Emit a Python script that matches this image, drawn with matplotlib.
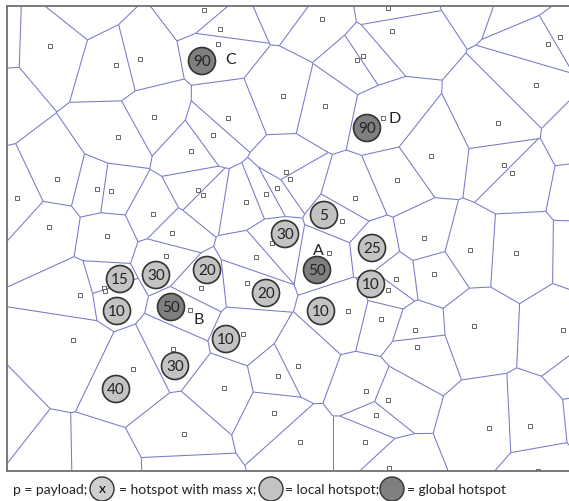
import numpy as np
import matplotlib.pyplot as plt
import matplotlib.tri as mtri
from matplotlib.collections import LineCollection
from matplotlib.patches import Circle

# payload positions (pixel coords of the original figure, y grows downward)
payload_x = [50, 116, 140, 204, 220, 218, 283, 154, 228, 118, 213, 191, 57, 17, 97, 111,
             198, 203, 246, 266, 277, 286, 290, 153, 49, 107, 172, 388, 322, 392, 357, 363,
             560, 548, 536, 325, 383, 498, 431, 504, 512, 397, 355, 342, 424, 166, 256, 272,
             80, 104, 105, 201, 247, 190, 243, 73, 173, 133, 278, 224, 274, 184, 329, 470,
             516, 434, 396, 388, 348, 381, 474, 563, 415, 417, 298, 366, 388, 376, 489, 530,
             300, 365, 389, 538, 372]
payload_y = [47, 66, 60, 11, 30, 45, 97, 118, 119, 138, 136, 152, 180, 199, 190, 192,
             191, 196, 203, 195, 189, 173, 180, 215, 228, 237, 234, 9, 20, 32, 61, 57,
             38, 45, 86, 107, 119, 124, 157, 166, 174, 181, 199, 222, 239, 257, 258, 244,
             296, 289, 292, 289, 284, 311, 335, 341, 350, 370, 377, 389, 414, 435, 254, 251,
             254, 275, 280, 291, 312, 320, 327, 331, 331, 348, 367, 392, 401, 416, 429, 427,
             443, 443, 469, 472, 249]

# payloads lying just outside the visible frame (they shape the border cells)
outer_x = [85, 292, 480, 525, -10, -7, -19, 46, 98, 186, 585, 592, 590, 592, 600]
outer_y = [3, -2, -26, -10, 45, 95, 431, 482, 481, 478, 135, 190, 255, 370, 420]

# hotspots
hot_x = [202, 367, 324, 285, 156, 120, 207, 317, 372, 266, 117, 171, 371, 321, 226, 175, 116]
hot_y = [62, 129, 216, 235, 276, 280, 271, 271, 249, 294, 312, 308, 285, 312, 340, 367, 390]
hot_mass = [90, 90, 5, 30, 30, 15, 20, 50, 25, 20, 10, 50, 10, 10, 10, 30, 40]
hot_global = [True, True, False, False, False, False, False, True, False, False, False,
              True, False, False, False, False, False]

tags = ["A", "B", "C", "D"]
tag_x = [318, 199, 231, 395]
tag_y = [251, 320, 60, 119]

W, H = 569, 502
fig = plt.figure(figsize=(W / 100, H / 100), dpi=100)
ax = fig.add_axes([7 / W, (H - 472) / H, (575 - 7) / W, (472 - 7) / H])
ax.set_xlim(7, 575)
ax.set_ylim(472, 7)
ax.set_xticks([])
ax.set_yticks([])
for s in ax.spines.values():
    s.set_color("#707070")
    s.set_linewidth(1.3)

# voronoi edges from the delaunay triangulation
px = np.array(payload_x + outer_x, float)
py = np.array(payload_y + outer_y, float)
pts = np.column_stack([px, py])
tri = mtri.Triangulation(px, py)
T = tri.triangles
A, B, C = pts[T[:, 0]], pts[T[:, 1]], pts[T[:, 2]]
d = 2 * (A[:, 0] * (B[:, 1] - C[:, 1]) + B[:, 0] * (C[:, 1] - A[:, 1]) + C[:, 0] * (A[:, 1] - B[:, 1]))
a2, b2, c2 = (A ** 2).sum(1), (B ** 2).sum(1), (C ** 2).sum(1)
ux = (a2 * (B[:, 1] - C[:, 1]) + b2 * (C[:, 1] - A[:, 1]) + c2 * (A[:, 1] - B[:, 1])) / d
uy = (a2 * (C[:, 0] - B[:, 0]) + b2 * (A[:, 0] - C[:, 0]) + c2 * (B[:, 0] - A[:, 0])) / d
cc = np.column_stack([ux, uy])

segs = []
for t in range(len(T)):
    for j in range(3):
        n = tri.neighbors[t, j]
        if n > t:
            segs.append([cc[t], cc[n]])
        elif n == -1:
            p0, p1, p2 = pts[T[t, j]], pts[T[t, (j + 1) % 3]], pts[T[t, (j + 2) % 3]]
            e = p1 - p0
            nrm = np.array([-e[1], e[0]])
            if np.dot(nrm, (p0 + p1) / 2 - p2) < 0:
                nrm = -nrm
            nrm = nrm / np.hypot(*nrm)
            segs.append([cc[t], cc[t] + nrm * 3000])
ax.add_collection(LineCollection(segs, colors="#7579c8", linewidths=0.75, zorder=1))

ax.plot(payload_x, payload_y, "s", ms=2.6, mfc="white", mec="#666666", mew=0.7, zorder=2)

for x, y, m, g in zip(hot_x, hot_y, hot_mass, hot_global):
    ax.add_patch(Circle((x, y), 13.5, fc="#7f7f7f" if g else "#c3c3c3", ec="#333333", lw=1.2, zorder=3))
    ax.text(x, y + 0.5, str(m), ha="center", va="center", fontsize=11, family="Lato", color="#222222", zorder=4)
for t, x, y in zip(tags, tag_x, tag_y):
    ax.text(x, y, t, ha="center", va="center", fontsize=11.5, family="Lato", color="#222222")

# legend strip
lax = fig.add_axes([0, 0, 1, (H - 474) / H])
lax.set_xlim(0, W)
lax.set_ylim(502, 474)
lax.axis("off")
lax.set_aspect("equal")
leg_y = 490
lax.add_patch(Circle((102, leg_y), 12, fc="#cfcfcf", ec="#333333", lw=1.0))
lax.text(102, leg_y - 1, "x", ha="center", va="center", fontsize=10, family="Lato")
lax.add_patch(Circle((271, leg_y), 12, fc="#c3c3c3", ec="#333333", lw=1.0))
lax.add_patch(Circle((392, leg_y), 12, fc="#7f7f7f", ec="#333333", lw=1.0))
for x, s in [(13, "p = payload;"), (119, "= hotspot with mass x;"), (285, "= local hotspot;"),
             (407, "= global hotspot")]:
    lax.text(x, leg_y, s, ha="left", va="center", fontsize=10, family="Lato", color="#222222")

fig.savefig("out.png", dpi=100)
